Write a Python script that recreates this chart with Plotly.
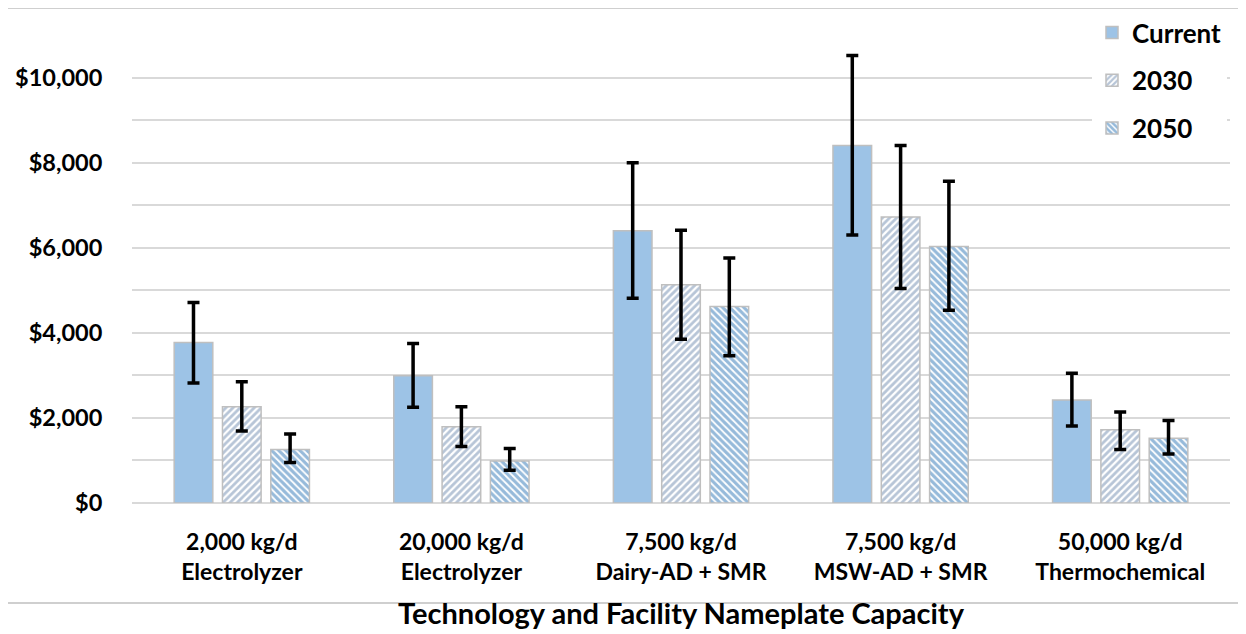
import plotly.graph_objects as go

categories = ["2,000 kg/d<br>Electrolyzer", "20,000 kg/d<br>Electrolyzer",
              "7,500 kg/d<br>Dairy-AD + SMR", "7,500 kg/d<br>MSW-AD + SMR",
              "50,000 kg/d<br>Thermochemical"]

current = [3770, 2990, 6400, 8400, 2420]
current_high = [4710, 3750, 8000, 10520, 3050]
current_low = [2820, 2250, 4810, 6300, 1810]

y2030 = [2260, 1790, 5130, 6720, 1720]
y2030_high = [2850, 2260, 6410, 8400, 2140]
y2030_low = [1690, 1330, 3850, 5040, 1260]

y2050 = [1260, 990, 4620, 6030, 1520]
y2050_high = [1620, 1280, 5760, 7560, 1940]
y2050_low = [950, 770, 3460, 4530, 1150]

FONT = "Lato"
GRID = "#d9d9d9"

def err(vals, hi, lo):
    return dict(type="data", symmetric=False,
                array=[h - v for v, h in zip(vals, hi)],
                arrayminus=[v - l for v, l in zip(vals, lo)],
                color="black", thickness=3.5, width=6)

fig = go.Figure()
fig.add_trace(go.Bar(
    name="Current", x=categories, y=current, legendgroup="a",
    marker=dict(color="#9dc3e6", line=dict(color="#bfbfbf", width=1.5)),
    error_y=err(current, current_high, current_low)))
fig.add_trace(go.Bar(
    name="2030", x=categories, y=y2030, legendgroup="b",
    marker=dict(color="white", line=dict(color="#bfbfbf", width=1.5),
                pattern=dict(shape="/", fgcolor="#6f8bb0", bgcolor="white",
                             size=5, solidity=0.55)),
    error_y=err(y2030, y2030_high, y2030_low)))
fig.add_trace(go.Bar(
    name="2050", x=categories, y=y2050, legendgroup="c",
    marker=dict(color="white", line=dict(color="#bfbfbf", width=1.5),
                pattern=dict(shape="\\", fgcolor="#2e75b6", bgcolor="white",
                             size=5, solidity=0.65)),
    error_y=err(y2050, y2050_high, y2050_low)))

# figure-coordinate layout (page body adds an 8px offset)
L, R, T, B = 124, 24, 27, 139
W, H = 1246, 634
pw, ph = W - L - R, H - T - B

def px_x(p):
    return (p - L) / pw

def px_y(p):
    return (H - B - p) / ph

fig.update_layout(
    width=W, height=H,
    margin=dict(l=L, r=R, t=T, b=B, autoexpand=False),
    paper_bgcolor="white", plot_bgcolor="white",
    barmode="group", bargap=0.34, bargroupgap=0.2,
    font=dict(family=FONT, color="black"),
    legend=dict(x=px_x(1084), y=px_y(1), xanchor="left", yanchor="top",
                bgcolor="white", font=dict(size=26, family=FONT, weight="bold"),
                tracegroupgap=11, itemwidth=30),
    showlegend=True,
    xaxis=dict(
        tickfont=dict(size=23, family=FONT, weight="bold"),
        showgrid=False, showline=False,
        ticks="outside", ticklen=18, tickcolor="rgba(0,0,0,0)",
        title=dict(text="Technology and Facility Nameplate Capacity",
                   font=dict(size=29, family=FONT, weight="bold"), standoff=20),
    ),
    yaxis=dict(
        range=[0, 11000], tick0=0, dtick=2000,
        tickprefix="$", tickformat=",",
        tickfont=dict(size=23.5, family=FONT, weight="bold"),
        showgrid=True, gridcolor=GRID, gridwidth=1.5,
        zeroline=True, zerolinecolor=GRID, zerolinewidth=1.5,
        minor=dict(dtick=1000, showgrid=True, gridcolor=GRID, gridwidth=1.5),
        ticks="outside", ticklen=24, tickcolor="rgba(0,0,0,0)",
        showline=False,
    ),
    shapes=[
        dict(type="line", xref="paper", yref="paper",
             x0=px_x(0), x1=px_x(W), y0=px_y(0), y1=px_y(0),
             line=dict(color="#bfbfbf", width=1.5)),
        dict(type="line", xref="paper", yref="paper",
             x0=px_x(0), x1=px_x(W), y0=px_y(595), y1=px_y(595),
             line=dict(color="#bfbfbf", width=1.5)),
    ],
)

fig.write_html("out.html")
